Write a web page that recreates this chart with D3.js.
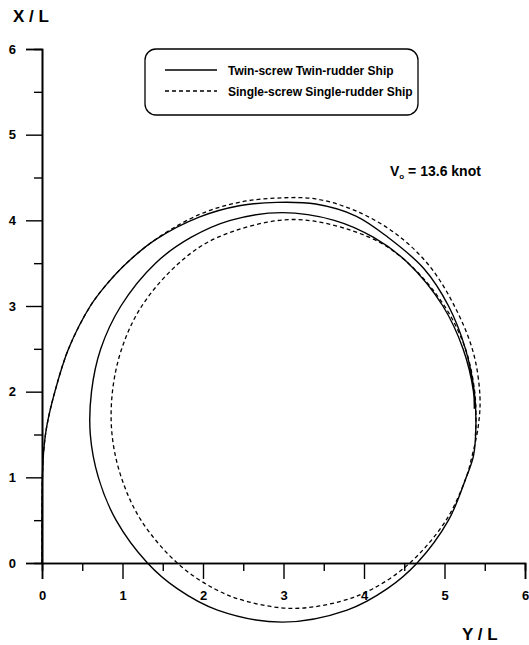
<!DOCTYPE html>
<html>
<head>
<meta charset="utf-8">
<script src="https://cdn.jsdelivr.net/npm/d3@7"></script>
<style>
  html, body { margin: 0; padding: 0; background: #fff; }
  svg { display: block; }
  text { font-family: "Liberation Sans", Arial, sans-serif; font-weight: bold; fill: #000; }
</style>
</head>
<body>
<svg id="chart" width="529" height="645"></svg>
<script>
// ---- data (Y/L, X/L) ----
const twinScrew = [
  [0,0],[0,0.5],[0.005,1.0],[0.02,1.3],[0.06,1.6],[0.16,2.0],[0.33,2.5],[0.60,3.0],
  [0.80,3.25],[1.05,3.5],[1.42,3.78],[1.96,4.04],[2.45,4.17],[2.92,4.21],[3.40,4.19],[3.90,4.05],
  [4.30,3.80],[4.74,3.44],[5.05,3.00],[5.26,2.50],[5.37,2.00],[5.39,1.60],[5.36,1.25],
  [5.27,1.0],[5.05,0.5],[4.66,0.0],[4.29,-0.3],[3.79,-0.55],[2.985,-0.69],[2.18,-0.55],
  [1.68,-0.3],[1.31,0.0],[0.92,0.5],[0.70,1.0],[0.60,1.5],[0.615,2.0],[0.73,2.5],
  [0.98,3.0],[1.41,3.5],[1.85,3.8],[2.34,4.0],[2.985,4.09],[3.63,4.0],[4.12,3.8],
  [4.55,3.5],[4.98,3.0],[5.23,2.5],[5.36,2.0],[5.37,1.8]
];
const singleScrew = [
  [0,0],[0,0.5],[0.005,1.0],[0.02,1.3],[0.06,1.6],[0.16,2.0],[0.33,2.5],[0.60,3.0],
  [0.80,3.25],[1.05,3.5],[1.43,3.79],[1.96,4.07],[2.45,4.21],[2.92,4.26],[3.40,4.25],[3.90,4.11],
  [4.40,3.84],[4.82,3.46],[5.15,2.95],[5.36,2.45],[5.44,1.95],[5.42,1.60],[5.33,1.2],
  [5.27,1.0],[5.02,0.5],[4.57,0.0],[4.11,-0.3],[3.70,-0.45],[3.125,-0.53],[2.55,-0.45],
  [2.14,-0.3],[1.68,0.0],[1.23,0.5],[0.985,1.0],[0.87,1.5],[0.875,2.0],[0.99,2.5],
  [1.24,3.0],[1.70,3.5],[2.18,3.8],[3.125,4.01],[4.07,3.8],[4.55,3.5],[5.0,3.0],
  [5.26,2.5],[5.375,2.0],[5.39,1.6],[5.38,1.45]
];
const majorTicks = [0,1,2,3,4,5,6];
const minorTicks = [0.5,1.5,2.5,3.5,4.5,5.5];
const tickLabels = ["0","1","2","3","4","5","6"];
const legendLabels = ["Twin-screw Twin-rudder Ship", "Single-screw Single-rudder Ship"];
const xAxisTitle = "Y / L";
const yAxisTitle = "X / L";
const speedLabel = { main: "V", sub: "o", rest: " = 13.6 knot" };

// ---- drawing ----
const svg = d3.select("#chart");
const x = d3.scaleLinear().domain([0, 6]).range([42, 525]);
const y = d3.scaleLinear().domain([0, 6]).range([563, 49]);

function styleAxis(g) {
  g.selectAll("path.domain").attr("stroke", "#000").attr("stroke-width", 1.6);
  g.selectAll(".tick line").attr("stroke", "#000").attr("stroke-width", 1.4);
  g.selectAll(".tick text").style("font-size", "13px").style("font-weight", "bold")
    .style("font-family", '"Liberation Sans", Arial, sans-serif');
}

// minor ticks
svg.append("g").attr("transform", `translate(0,${y(0)})`)
  .call(d3.axisBottom(x).tickValues(minorTicks).tickSize(8).tickFormat(""))
  .call(styleAxis);
svg.append("g").attr("transform", `translate(${x(0)},0)`)
  .call(d3.axisLeft(y).tickValues(minorTicks).tickSize(8).tickFormat(""))
  .call(styleAxis);
// major ticks
svg.append("g").attr("transform", `translate(0,${y(0)})`)
  .call(d3.axisBottom(x).tickValues(majorTicks).tickSize(16).tickPadding(12)
    .tickFormat((d, i) => tickLabels[i]))
  .call(styleAxis);
svg.append("g").attr("transform", `translate(${x(0)},0)`)
  .call(d3.axisLeft(y).tickValues(majorTicks).tickSize(16).tickPadding(10)
    .tickFormat((d, i) => tickLabels[i]))
  .call(styleAxis);

// axis titles
svg.append("text").attr("x", 13).attr("y", 22).style("font-size", "17px").text(yAxisTitle);
svg.append("text").attr("x", 462).attr("y", 640).style("font-size", "17px").text(xAxisTitle);

// curves
const line = d3.line().x(d => x(d[0])).y(d => y(d[1])).curve(d3.curveCatmullRom.alpha(0.5));
svg.append("path").datum(twinScrew).attr("d", line)
  .attr("fill", "none").attr("stroke", "#000").attr("stroke-width", 1.4);
svg.append("path").datum(singleScrew).attr("d", line)
  .attr("fill", "none").attr("stroke", "#000").attr("stroke-width", 1.3)
  .attr("stroke-dasharray", "4,3");

// legend
const lg = svg.append("g");
lg.append("rect").attr("x", 145).attr("y", 49).attr("width", 273).attr("height", 66)
  .attr("rx", 11).attr("ry", 11).attr("fill", "#fff").attr("stroke", "#000").attr("stroke-width", 1.3);
const legendY = [70, 91];
legendLabels.forEach((lab, i) => {
  lg.append("line").attr("x1", 165).attr("x2", 217).attr("y1", legendY[i]).attr("y2", legendY[i])
    .attr("stroke", "#000").attr("stroke-width", 1.3)
    .attr("stroke-dasharray", i === 1 ? "4,3" : null);
  lg.append("text").attr("x", 228).attr("y", legendY[i] + 4.5).style("font-size", "12px").text(lab);
});

// speed annotation
const ann = svg.append("text").attr("x", 390).attr("y", 176).style("font-size", "14px");
ann.append("tspan").text(speedLabel.main);
ann.append("tspan").attr("dy", 3).style("font-size", "8px").text(speedLabel.sub);
ann.append("tspan").attr("dy", -3).text(speedLabel.rest);
</script>
</body>
</html>
